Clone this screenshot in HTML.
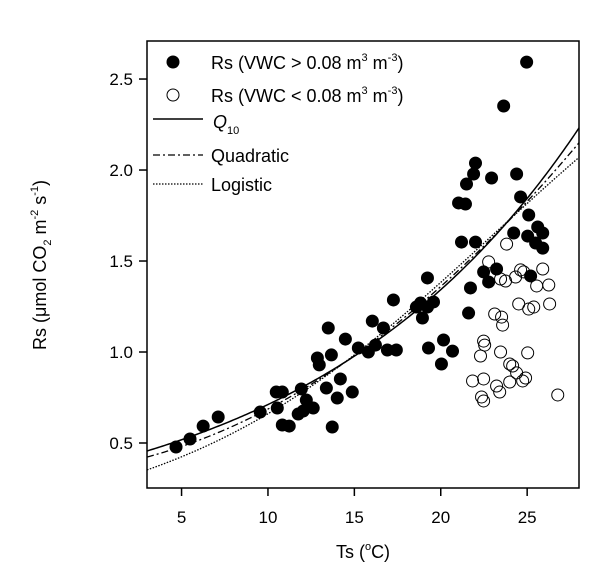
<!DOCTYPE html>
<html><head><meta charset="utf-8"><style>
html,body{margin:0;padding:0;background:#fff;}
svg{display:block;font-family:"Liberation Sans",Arial,sans-serif;}
</style></head><body>
<svg id="chart" width="606" height="584" viewBox="0 0 606 584">
<g id="plot"></g>
<g id="axes"></g>
<g id="legend">
 <circle cx="173" cy="62" r="6.5" fill="#000"/>
 <text x="211" y="69" font-size="18">Rs (VWC &gt; 0.08 m<tspan font-size="11" dy="-8">3</tspan><tspan dy="8"> m</tspan><tspan font-size="11" dy="-8">-3</tspan><tspan dy="8">)</tspan></text>
 <circle cx="173" cy="95" r="6" fill="#fff" stroke="#000" stroke-width="1"/>
 <text x="211" y="102" font-size="18">Rs (VWC &lt; 0.08 m<tspan font-size="11" dy="-8">3</tspan><tspan dy="8"> m</tspan><tspan font-size="11" dy="-8">-3</tspan><tspan dy="8">)</tspan></text>
 <line x1="153" y1="119" x2="203" y2="119" stroke="#000" stroke-width="1.5"/>
 <text x="213" y="128" font-size="18" font-style="italic">Q<tspan font-size="11" font-style="normal" dy="6">10</tspan></text>
 <line x1="153" y1="155" x2="203" y2="155" stroke="#000" stroke-width="1.3" stroke-dasharray="7,3,2,3"/>
 <text x="211" y="162" font-size="18">Quadratic</text>
 <line x1="153" y1="184" x2="203" y2="184" stroke="#000" stroke-width="1.3" stroke-dasharray="1.5,1.5"/>
 <text x="211" y="191" font-size="18">Logistic</text>
</g>
<text x="363" y="558" font-size="18" text-anchor="middle">Ts (<tspan font-size="11" dy="-8">o</tspan><tspan dy="8">C)</tspan></text>
<text transform="translate(46,265) rotate(-90)" font-size="18" text-anchor="middle">Rs (μmol CO<tspan font-size="11" dy="5">2</tspan><tspan dy="-5"> m</tspan><tspan font-size="11" dy="-8">-2</tspan><tspan dy="8"> s</tspan><tspan font-size="11" dy="-8">-1</tspan><tspan dy="8">)</tspan></text>
</svg>
<script>
const xTicks=[5,10,15,20,25];
const yTicks=[0.5,1.0,1.5,2.0,2.5];
const yTickLabels=["0.5","1.0","1.5","2.0","2.5"];
const wetTs=[4.68,5.49,6.25,7.12,9.55,10.54,10.48,10.83,10.83,11.23,11.93,12.22,11.75,12.04,12.62,13.49,12.86,12.97,13.67,13.38,14.19,14.01,14.88,13.72,14.48,15.23,15.81,16.22,16.04,16.68,16.91,17.43,17.26,18.59,18.83,19.23,19.58,18.94,19.23,19.29,20.16,20.68,20.04,21.20,22.01,21.72,21.61,22.48,23.23,22.77,24.22,25.03,25.61,25.90,25.49,25.90,25.20,24.97,23.64,22.01,21.90,21.49,21.03,21.43,22.94,24.39,24.62,25.09];
const wetRs=[0.478,0.522,0.593,0.643,0.670,0.692,0.780,0.780,0.599,0.593,0.797,0.736,0.659,0.676,0.692,1.132,0.967,0.929,0.984,0.802,0.852,0.747,0.780,0.588,1.071,1.022,1.0,1.038,1.170,1.132,1.011,1.011,1.286,1.247,1.269,1.247,1.275,1.187,1.407,1.022,1.066,1.005,0.934,1.604,1.604,1.352,1.214,1.440,1.456,1.385,1.654,1.637,1.687,1.654,1.599,1.571,1.418,2.593,2.352,2.038,1.978,1.923,1.819,1.813,1.956,1.978,1.852,1.753];
const dryTs=[23.81,22.77,23.46,23.75,24.33,24.62,24.80,25.90,25.55,26.25,24.51,25.09,25.38,26.30,23.12,23.52,23.58,22.48,22.54,22.30,23.46,25.03,23.99,24.16,24.39,21.84,22.48,23.99,23.23,23.41,24.74,24.91,22.36,22.48,26.77];
const dryRs=[1.593,1.495,1.401,1.390,1.412,1.451,1.440,1.456,1.363,1.368,1.264,1.236,1.247,1.264,1.209,1.192,1.148,1.060,1.038,0.978,1.0,0.995,0.934,0.923,0.885,0.841,0.852,0.835,0.813,0.780,0.841,0.857,0.753,0.731,0.764];
const q10Params=[0.377,0.0635];
const quadParams=[0.362,0.01504,0.001743];
const logiParams=[3.3,0.1058,23.09];

const NS="http://www.w3.org/2000/svg";
const L=147,R=579,T=41,B=488,xMin=3,xMax=28,yMin=0.2527,yMax=2.709;
function sx(v){return L+(v-xMin)/(xMax-xMin)*(R-L);}
function sy(v){return B-(v-yMin)/(yMax-yMin)*(B-T);}
function mk(tag,attrs,parent){const e=document.createElementNS(NS,tag);for(const k in attrs)e.setAttribute(k,attrs[k]);parent.appendChild(e);return e;}
const plot=document.getElementById('plot'),axes=document.getElementById('axes');

function curve(f,name,dash,w){
 let d="";for(let i=0;i<=200;i++){const t=xMin+(xMax-xMin)*i/200;d+=(i?"L":"M")+sx(t).toFixed(2)+","+sy(f(t)).toFixed(2);}
 const p=mk('path',{d:d,fill:"none",stroke:"#000","stroke-width":w},plot);
 if(dash)p.setAttribute('stroke-dasharray',dash);
 
 
}
curve(t=>q10Params[0]*Math.exp(q10Params[1]*t),'q10-curve',null,1.5);
curve(t=>quadParams[0]+quadParams[1]*t+quadParams[2]*t*t,'quadratic-curve','7,3,2,3',1.3);
curve(t=>logiParams[0]/(1+Math.exp(-logiParams[1]*(t-logiParams[2]))),'logistic-curve','1.5,1.5',1.3);

wetTs.forEach((t,i)=>{
 const c=mk('circle',{cx:sx(t),cy:sy(wetRs[i]),r:6.5,fill:"#000"},plot);
 
 
});
dryTs.forEach((t,i)=>{
 const c=mk('circle',{cx:sx(t),cy:sy(dryRs[i]),r:6,fill:"none",stroke:"#000","stroke-width":1},plot);
 
 
});

const fr=mk('rect',{x:L,y:T,width:R-L,height:B-T,fill:"none",stroke:"#000","stroke-width":1.5},axes);


xTicks.forEach(v=>{
 const l=mk('line',{x1:sx(v),x2:sx(v),y1:B,y2:B+8,stroke:"#000","stroke-width":1.5},axes);
 
 
 const tx=mk('text',{x:sx(v),y:B+35,"font-size":17,"text-anchor":"middle"},axes);
 tx.textContent=String(v);
 
 
});
yTicks.forEach((v,i)=>{
 const l=mk('line',{x1:L-8,x2:L,y1:sy(v),y2:sy(v),stroke:"#000","stroke-width":1.5},axes);
 
 
 const tx=mk('text',{x:L-14,y:sy(v)+6,"font-size":17,"text-anchor":"end"},axes);
 tx.textContent=yTickLabels[i];
 
 
});
</script>
</body></html>
